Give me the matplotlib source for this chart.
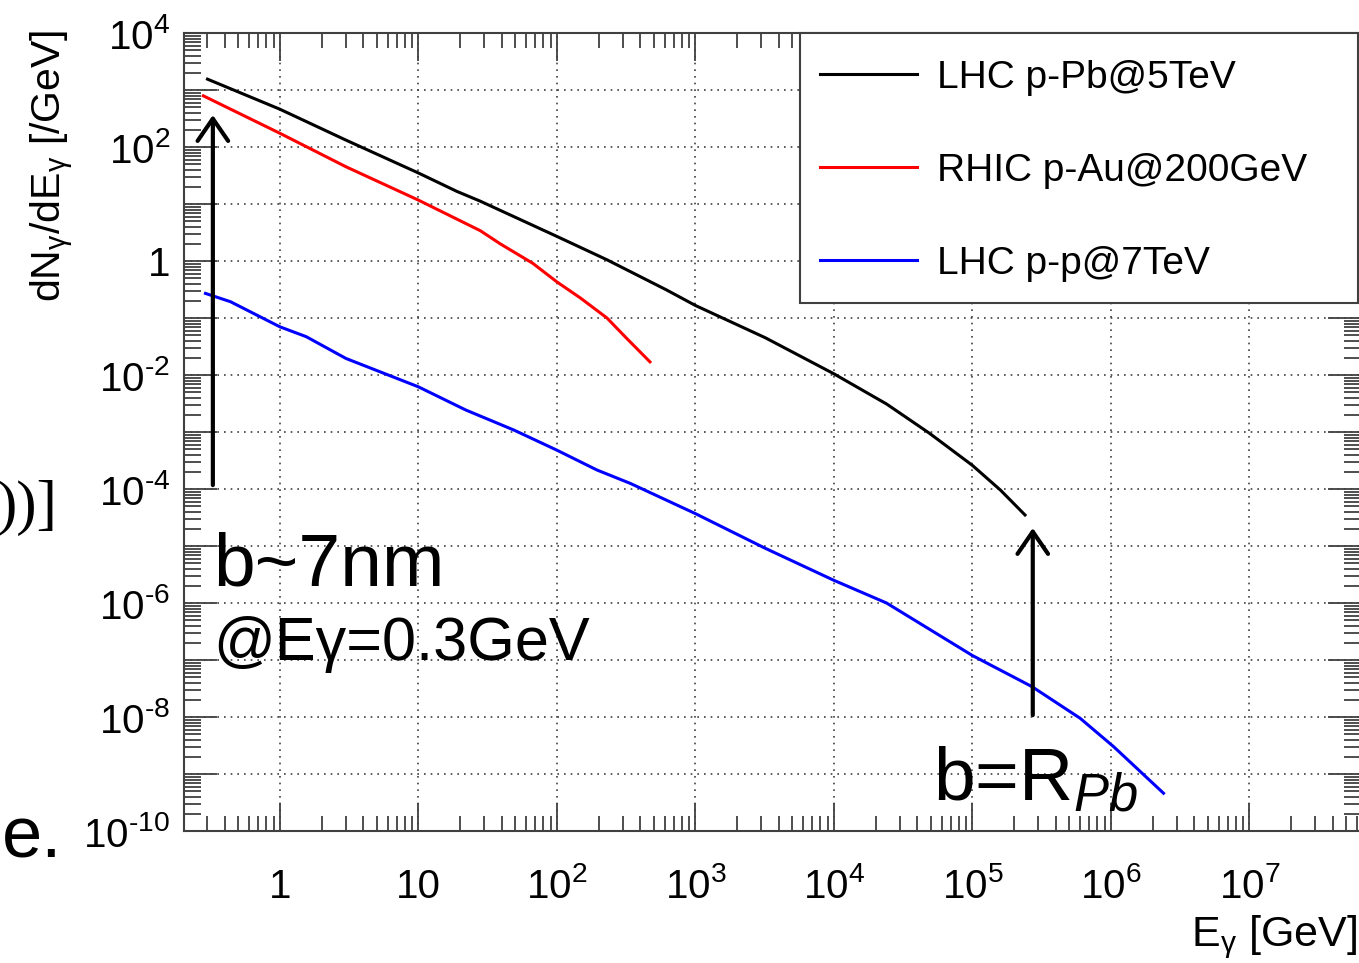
import numpy as np
import matplotlib
matplotlib.use('Agg')
import matplotlib.pyplot as plt
from matplotlib.patches import Rectangle
from matplotlib.ticker import LogLocator, FuncFormatter, NullFormatter

plt.rcParams['font.family'] = ['Liberation Sans', 'DejaVu Sans']
plt.rcParams['mathtext.fontset'] = 'custom'
plt.rcParams['mathtext.rm'] = 'Liberation Sans'
plt.rcParams['mathtext.it'] = 'Liberation Sans:italic'
plt.rcParams['mathtext.default'] = 'regular'

# photon flux spectra, E in GeV, dN/dE in 1/GeV
E_pPb = [0.3, 1, 3, 10, 19, 28, 100, 230, 620, 1000, 3200, 1e4, 2.4e4, 4.9e4,
         1e5, 1.6e5, 2.4e5]
dN_pPb = [1550, 460, 132, 35, 16.6, 11.2, 2.7, 1.05, 0.31, 0.166, 0.045, 0.0105,
          0.0031, 9.5e-4, 2.6e-4, 9.5e-5, 3.5e-5]

E_pAu = [0.28, 1, 3, 10, 28, 39, 67, 100, 148, 230, 316, 470]
dN_pAu = [790, 174, 45, 11.7, 3.4, 2.0, 0.91, 0.43, 0.224, 0.1, 0.045, 0.017]

E_pp = [0.29, 0.44, 1, 1.55, 3, 10, 22, 49, 100, 195, 340, 1000, 3200, 1e4,
        2.4e4, 1e5, 2.7e5, 6e5, 1.05e6, 2.4e6]
dN_pp = [0.27, 0.193, 0.07, 0.047, 0.0195, 0.0062, 0.00243, 0.00108, 4.8e-4,
         2.15e-4, 1.25e-4, 3.7e-5, 9.1e-6, 2.5e-6, 1.0e-6, 1.2e-7, 3.4e-8,
         9.5e-9, 3.0e-9, 4.6e-10]

labels = ['LHC p-Pb@5TeV', 'RHIC p-Au@200GeV', 'LHC p-p@7TeV']
colors = ['black', '#ff0000', '#0000ff']

# arrows: (E, tip, tail)
arrow_min_b = (0.328, 364, 1.17e-4)
arrow_R_Pb = (2.73e5, 2.07e-5, 1.08e-8)

W, H = 1359, 963
fig = plt.figure(figsize=(W / 100, H / 100), dpi=100)
ax = fig.add_axes([184 / W, (H - 831) / H, (1361 - 184) / W, (831 - 33) / H])

lines = []
for E, dN, lab, c in zip([E_pPb, E_pAu, E_pp], [dN_pPb, dN_pAu, dN_pp], labels, colors):
    lines += ax.plot(E, dN, color=c, lw=2.2, label=lab)

ax.set_xscale('log')
ax.set_yscale('log')
ax.set_xlim(0.203, 6.4e7)
ax.set_ylim(1e-10, 1e4)

ax.xaxis.set_major_locator(LogLocator(base=10, numticks=100))
ax.xaxis.set_minor_locator(LogLocator(base=10, subs=np.arange(2, 10), numticks=100))
ax.yaxis.set_major_locator(LogLocator(base=10, numticks=100))
ax.yaxis.set_minor_locator(LogLocator(base=10, subs=np.arange(2, 10), numticks=100))
ax.xaxis.set_minor_formatter(NullFormatter())
ax.yaxis.set_minor_formatter(NullFormatter())


def power_label(e):
    if e == 0:
        return '1'
    if e == 1:
        return '10'
    return '$10^{%s}$' % str(e).replace('-', '\u2010')


def xfmt(v, pos):
    return power_label(int(round(np.log10(v))))


def yfmt(v, pos):
    e = int(round(np.log10(v)))
    return '' if e % 2 else power_label(e)


ax.xaxis.set_major_formatter(FuncFormatter(xfmt))
ax.yaxis.set_major_formatter(FuncFormatter(yfmt))

ax.tick_params(which='both', direction='in', top=True, right=True, color='0.25',
               width=1.3, labelsize=29)
ax.tick_params(axis='x', which='major', length=20, pad=48)
ax.tick_params(axis='x', which='minor', length=11)
ax.tick_params(axis='y', which='major', length=24, pad=10)
ax.tick_params(axis='y', which='minor', length=12.5)
for s in ax.spines.values():
    s.set_color('0.25')
    s.set_linewidth(1.5)

ax.grid(which='major', color='0.25', linestyle=(0, (1, 3)), lw=1.2)

# legend box drawn separately so the entries can sit freely inside it
fig.add_artist(Rectangle((800 / W, 1 - 303 / H), 558 / W, 270 / H,
                         transform=fig.transFigure, facecolor='white',
                         edgecolor='0.25', lw=1.5, zorder=4))
fig.legend(lines, labels, loc='upper left', bbox_to_anchor=(820 / W, 1 - 60 / H),
           fontsize=28, handlelength=2.5, handletextpad=0.5, labelspacing=1.46,
           borderpad=0, borderaxespad=0, frameon=False)

# annotation arrows
for xa, tip, tail in [arrow_min_b, arrow_R_Pb]:
    ax.annotate('', xy=(xa, tip), xytext=(xa, tail),
                arrowprops=dict(arrowstyle='->,head_length=0.8,head_width=0.55',
                                mutation_scale=20, lw=3, color='black',
                                shrinkA=0, shrinkB=0))

fig.text(213 / W, 1 - 585 / H, 'b~7nm', fontsize=54, va='baseline')
fig.text(213 / W, 1 - 660 / H, '@E\u03b3=0.3GeV', fontsize=44, va='baseline')
fig.text(933 / W, 1 - 800 / H, r'b=R$_{\mathit{Pb}}$', fontsize=54, va='baseline')

# axis titles
fig.text(52 / W, 1 - 30 / H, r'dN$_{\gamma}$/dE$_{\gamma}$ [/GeV]', rotation=90,
         ha='center', va='top', fontsize=29.5)
fig.text(1357 / W, 1 - 937 / H, r'E$_{\gamma}$ [GeV]', ha='right', va='center',
         fontsize=31)

# neighbouring slide text at the left edge
fig.text(57 / W, 1 - 508 / H, '))]', fontsize=44, family='Liberation Serif',
         va='center', ha='right')
fig.text(2 / W, 1 - 857 / H, 'e.', fontsize=52, va='baseline')

fig.canvas.draw()
for t in ax.xaxis.get_major_ticks():
    t.label1.set_va('baseline')

fig.savefig('out.png', dpi=100)
